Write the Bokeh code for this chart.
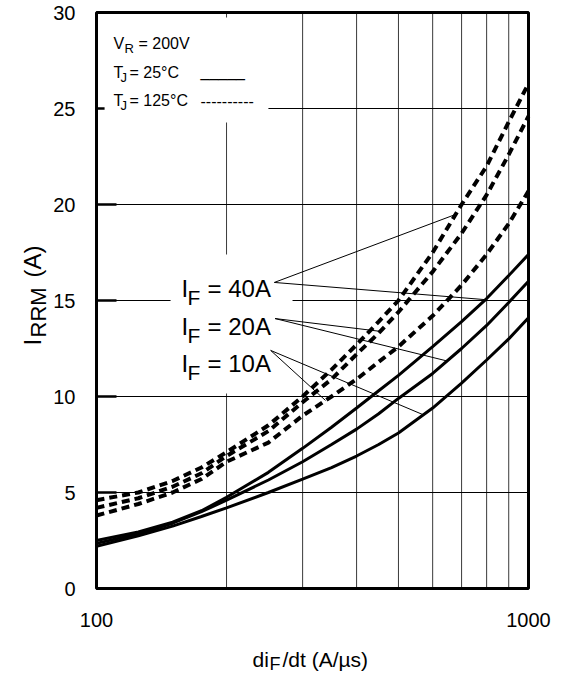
import numpy as np
from bokeh.plotting import figure
from bokeh.models import (Label, BoxAnnotation, FixedTicker, BasicTickFormatter)
from bokeh.embed import file_html
from bokeh.resources import INLINE

FONT = "Liberation Sans"

# ---------------- data ----------------
di_dt = [100, 125, 150, 175, 200, 250, 300, 350, 400, 450, 500, 600, 700, 800, 900, 1000]

# T_J = 25 C (solid)
irrm_25_40A = [2.5, 2.95, 3.45, 4.05, 4.75, 6.05, 7.3, 8.4, 9.4, 10.3, 11.1, 12.6, 13.9, 15.1, 16.3, 17.4]
irrm_25_20A = [2.35, 2.85, 3.4, 4.0, 4.6, 5.65, 6.6, 7.5, 8.3, 9.1, 9.9, 11.2, 12.5, 13.7, 14.9, 16.0]
irrm_25_10A = [2.2, 2.75, 3.25, 3.75, 4.2, 5.0, 5.7, 6.3, 6.9, 7.5, 8.1, 9.4, 10.7, 11.9, 13.0, 14.1]

# T_J = 125 C (dashed)
irrm_125_40A = [4.6, 5.0, 5.6, 6.3, 7.1, 8.5, 10.0, 11.4, 12.7, 13.9, 15.0, 17.5, 20.0, 22.0, 24.3, 26.3]
irrm_125_20A = [4.2, 4.7, 5.3, 6.0, 6.9, 8.2, 9.7, 10.9, 12.2, 13.3, 14.4, 16.5, 18.5, 20.5, 22.6, 24.6]
irrm_125_10A = [3.8, 4.4, 5.0, 5.7, 6.6, 7.6, 9.0, 10.0, 10.9, 11.8, 12.6, 14.2, 15.8, 17.4, 19.0, 20.7]

x_ticks = [100, 1000]
x_tick_labels = ["100", "1000"]
y_ticks = [0, 5, 10, 15, 20, 25, 30]
y_tick_labels = ["0", "5", "10", "15", "20", "25", "30"]
x_grid = [200, 300, 400, 500, 600, 700, 800, 900]
y_grid = [5, 10, 15, 20, 25]

series_labels = ["40A", "20A", "10A"]
solid_series = [irrm_25_40A, irrm_25_20A, irrm_25_10A]
dashed_series = [irrm_125_40A, irrm_125_20A, irrm_125_10A]

# where the leader lines touch the curves (x on dashed curve, x on solid curve)
leader_dashed_x = [678, 454, 339]
leader_solid_x = [795, 648, 571]
# where the leader lines leave the labels
leader_from_x = [258, 259, 253]
leader_from_y = [15.94, 14.06, 12.4]

# ---------------- geometry ----------------
W, H = 564, 674
FL, FR, FT, FB = 96, 528, 12, 588          # plot box in canvas pixels
xmin, xmax = x_ticks[0], x_ticks[-1]
ymin, ymax = y_ticks[0], y_ticks[-1]
px_per_dec = (FR - FL) / np.log10(xmax / xmin)
px_per_unit = (FB - FT) / (ymax - ymin)
x_lo = xmin / 10 ** (FL / px_per_dec)
x_hi = xmax * 10 ** ((W - FR) / px_per_dec)
y_lo = ymin - (H - FB) / px_per_unit
y_hi = ymax + FT / px_per_unit

p = figure(width=W, height=H, x_axis_type="log",
           x_range=(x_lo, x_hi), y_range=(y_lo, y_hi),
           output_backend="svg", toolbar_location=None,
           min_border=0, min_border_left=0, min_border_right=0,
           min_border_top=0, min_border_bottom=0)
p.background_fill_color = "white"
p.border_fill_color = "white"
p.outline_line_color = None
p.xgrid.visible = False
p.ygrid.visible = False

# x axis, drawn at y = 0
xa = p.xaxis[0]
xa.fixed_location = ymin
xa.bounds = (xmin, xmax)
xa.ticker = FixedTicker(ticks=x_ticks)
xa.formatter = BasicTickFormatter()
xa.major_label_overrides = {t: s for t, s in zip(x_ticks, x_tick_labels)}
xa.major_tick_in = 0
xa.major_tick_out = 0
xa.minor_tick_in = 0
xa.minor_tick_out = 0
xa.axis_line_color = None
xa.major_label_standoff = 24
xa.major_label_text_font = FONT
xa.major_label_text_font_size = "20px"
xa.major_label_text_color = "black"

# y axis, drawn at x = 100 (ticks point inwards)
ya = p.yaxis[0]
ya.fixed_location = xmin
ya.bounds = (ymin, ymax)
ya.ticker = FixedTicker(ticks=y_ticks)
ya.major_label_overrides = {t: s for t, s in zip(y_ticks, y_tick_labels)}
ya.major_tick_in = 20
ya.major_tick_out = 0
ya.major_tick_line_width = 2.5
ya.major_tick_line_color = "black"
ya.minor_tick_in = 0
ya.minor_tick_out = 0
ya.axis_line_color = None
ya.major_label_standoff = 21
ya.major_label_text_font = FONT
ya.major_label_text_font_size = "20px"
ya.major_label_text_color = "black"

# grid lines inside the plot box
p.segment(x0=x_grid, y0=[ymin] * len(x_grid), x1=x_grid, y1=[ymax] * len(x_grid),
          line_color="#3a3a3a", line_width=1)
p.segment(x0=[xmin] * len(y_grid), y0=y_grid, x1=[xmax] * len(y_grid), y1=y_grid,
          line_color="black", line_width=1)

# curves
for ys in solid_series:
    p.line(di_dt, ys, line_color="black", line_width=3)
for ys in dashed_series:
    p.line(di_dt, ys, line_color="black", line_width=4, line_dash="8 5")

# plot box border
p.quad(left=[xmin], right=[xmax], bottom=[ymin], top=[ymax],
       fill_color=None, line_color="black", line_width=3)

# white masks behind the text blocks (they hide the grid there)
p.add_layout(BoxAnnotation(left=104.4, right=250, bottom=24.27, top=29.74,
                           fill_color="white", fill_alpha=1, line_alpha=0))
p.add_layout(BoxAnnotation(left=148.4, right=284.3, bottom=10.16, top=17.4,
                           fill_color="white", fill_alpha=1, line_alpha=0))


def txt(x, y, text, size, dx=0, dy=0, align="left", baseline="alphabetic", angle=0):
    p.add_layout(Label(x=x, y=y, text=text, x_offset=dx, y_offset=dy,
                       text_font=FONT, text_font_size=f"{size}px",
                       text_align=align, text_baseline=baseline, angle=angle,
                       text_color="black"))


# legend block (top left)
txt(xmin, ymax, "V", 16, dx=17, dy=-31)
txt(xmin, ymax, "R", 13, dx=28, dy=-36)
txt(xmin, ymax, "= 200V", 16, dx=42, dy=-31)
txt(xmin, ymax, "T", 16, dx=17, dy=-60)
txt(xmin, ymax, "J", 13, dx=24, dy=-65)
txt(xmin, ymax, "= 25°C", 16, dx=33, dy=-60)
txt(xmin, ymax, "_____", 16, dx=104, dy=-59)
txt(xmin, ymax, "T", 16, dx=17, dy=-88)
txt(xmin, ymax, "J", 13, dx=24, dy=-93)
txt(xmin, ymax, "= 125°C", 16, dx=33, dy=-88)
txt(xmin, ymax, "----------", 16, dx=104, dy=-88)

# I_F labels
row_dy = [-276, -314, -351]
for lab, dy in zip(series_labels, row_dy):
    txt(xmin, ymax, "I", 24, dx=85, dy=dy)
    txt(xmin, ymax, "F", 21, dx=91, dy=dy - 9)
    txt(xmin, ymax, "= " + lab, 24, dx=111, dy=dy)

# leader lines, ending on the curves
lx = np.log10(di_dt)
x0, y0, x1, y1 = [], [], [], []
for i in range(3):
    for cx, ser in ((leader_dashed_x[i], dashed_series[i]), (leader_solid_x[i], solid_series[i])):
        x0.append(leader_from_x[i])
        y0.append(leader_from_y[i])
        x1.append(cx)
        y1.append(float(np.interp(np.log10(cx), lx, ser)))
p.segment(x0, y0, x1, y1, line_color="black", line_width=1, level="overlay")

# axis titles
xc = np.sqrt(xmin * xmax)
txt(xc, ymin, "di", 21, dx=-60, dy=-71)
txt(xc, ymin, "F", 18, dx=-43, dy=-75)
txt(xc, ymin, "/dt (A/µs)", 21, dx=-30, dy=-71)

txt(xmin, ymin, "I", 24, dx=-64, dy=243, angle=np.pi / 2)
txt(xmin, ymin, "RRM", 22, dx=-58, dy=251, angle=np.pi / 2)
txt(xmin, ymin, "(A)", 24, dx=-64, dy=311, angle=np.pi / 2)

open("out.html", "w").write(file_html(p, INLINE))
